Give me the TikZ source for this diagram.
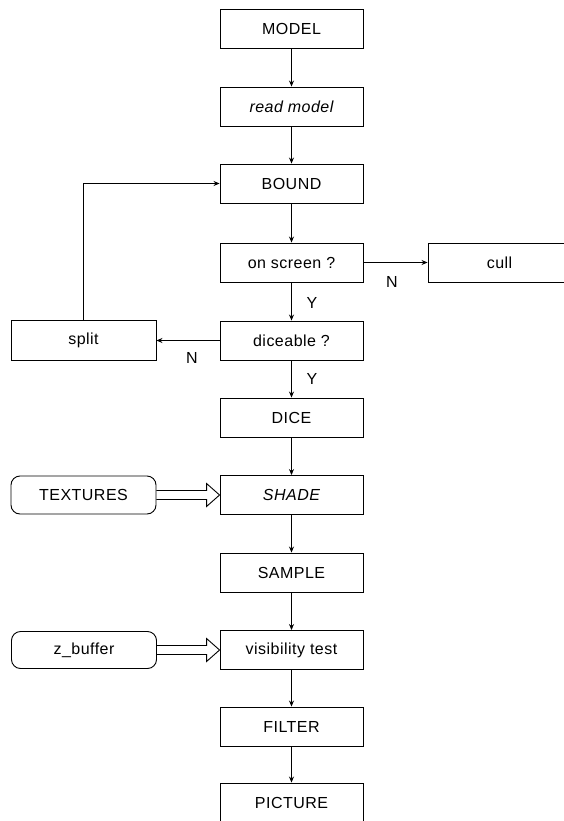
\documentclass[tikz,border=0pt]{standalone}
\usepackage{fontspec}
\setmainfont{Liberation Sans}[LetterSpace=3.0]
\usetikzlibrary{arrows.meta,calc}
\begin{document}
\begin{tikzpicture}[x=1pt,y=-1pt,
  every node/.style={font=\fontsize{16}{19}\selectfont},
  box/.style={draw,line width=0.9pt,minimum width=143pt,minimum height=39pt,inner sep=0pt},
  store/.style={draw,line width=0.9pt,rounded corners=9pt,minimum width=145pt,minimum height=38pt,inner sep=0pt},
  flow/.style={line width=0.9pt,-{Stealth[length=6pt,width=5pt]}},
  hollow/.style={line width=0.9pt,line join=miter},
  lbl/.style={inner sep=0pt}]
\useasboundingbox (0,0) rectangle (564,821);
\node[box] (model) at (291.5,28.5) {MODEL};
\node[box] (read) at (291.5,106.5) {\itshape read model};
\node[box] (bound) at (291.5,183.5) {BOUND};
\node[box] (onscr) at (291.5,262.5) {on screen ?};
\node[box] (dice?) at (291.5,340.5) {diceable ?};
\node[box] (dice) at (291.5,417.5) {DICE};
\node[box] (shade) at (291.5,495) {\itshape SHADE};
\node[box] (sample) at (291.5,572.5) {SAMPLE};
\node[box] (vis) at (291.5,650) {visibility test};
\node[box] (filter) at (291.5,726.5) {FILTER};
\node[box] (pict) at (291.5,802.5) {PICTURE};
\node[box,minimum width=150pt] (cull) at (503,262.5) {\hspace*{-7pt}cull};
\node[box,minimum width=145pt,minimum height=40pt] (split) at (83.5,340) {split};
\node[store] (tex) at (83.5,495) {TEXTURES};
\node[store,minimum height=37pt] (zbuf) at (84,650) {z\_buffer};
\draw[flow] (model) -- (read);
\draw[flow] (read) -- (bound);
\draw[flow] (bound) -- (onscr);
\draw[flow] (onscr) -- (dice?);
\draw[flow] (dice?) -- (dice);
\draw[flow] (dice) -- (shade);
\draw[flow] (shade) -- (sample);
\draw[flow] (sample) -- (vis);
\draw[flow] (vis) -- (filter);
\draw[flow] (filter) -- (pict);
\draw[flow] (onscr.east) -- (cull.west);
\draw[flow] (dice?.west) -- (dice?.west -| split.east);
\draw[flow] (split.north) |- (bound.west);
\node[lbl] (y1) at (312,303) {Y};
\node[lbl] (y2) at (312,379) {Y};
\node[lbl] (n1) at (392,282) {N};
\node[lbl] (n2) at (192,358) {N};
\draw[hollow] ($(tex.east)+(0,-4.5)$) -- ($(shade.west)+(-13,-4.5)$) -- ($(shade.west)+(-13,-11.5)$) -- (shade.west) -- ($(shade.west)+(-13,11.5)$) -- ($(shade.west)+(-13,4.5)$) -- ($(tex.east)+(0,4.5)$);
\draw[hollow] ($(zbuf.east)+(0,-4.5)$) -- ($(vis.west)+(-13,-4.5)$) -- ($(vis.west)+(-13,-11.5)$) -- (vis.west) -- ($(vis.west)+(-13,11.5)$) -- ($(vis.west)+(-13,4.5)$) -- ($(zbuf.east)+(0,4.5)$);
\end{tikzpicture}
\end{document}
